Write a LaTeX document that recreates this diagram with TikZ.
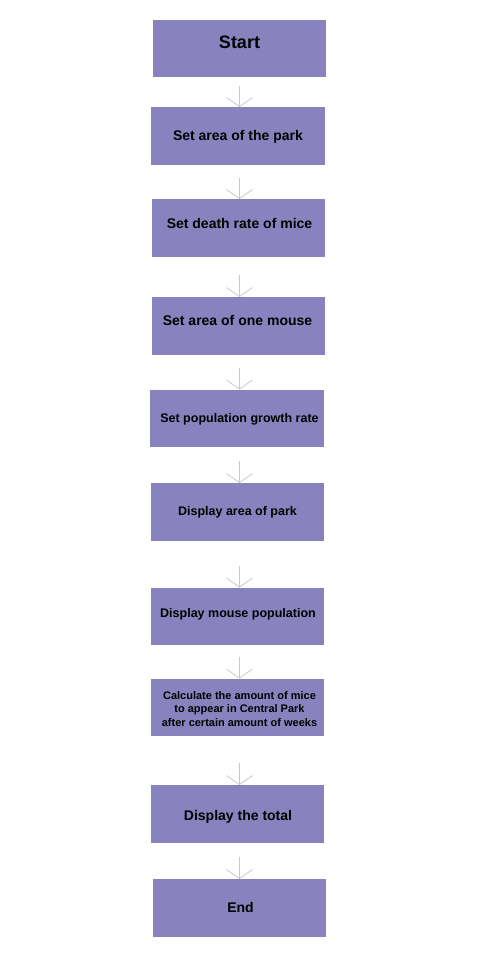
\documentclass[tikz,border=0pt]{standalone}
\usepackage{fontspec}
\setmainfont{Liberation Sans}
\usetikzlibrary{arrows.meta}
\definecolor{boxfill}{RGB}{136,131,190}
\definecolor{flowgray}{RGB}{200,200,200}
\begin{document}
\begin{tikzpicture}[x=1pt,y=1pt]
		\tikzstyle{every node}+=[inner sep=0pt]
		\tikzstyle{stepbox}=[fill=boxfill, minimum width=173.5pt, minimum height=57.5pt]
		\tikzstyle{flow}=[draw=flowgray, line width=0.8pt, -{Straight Barb[length=9pt,width=26pt]}]
		\useasboundingbox (0,0) rectangle (477,-960);
		\node [stepbox] (start) at (239.5,-48.5) {};
		\node [font=\bfseries\fontsize{18}{20}\selectfont] (start text) at ([yshift=6.5]start.center) {Start};
		\node [stepbox] (park) at (238,-136) {};
		\node [font=\bfseries\fontsize{14}{16}\selectfont] (park text) at ([yshift=-1]park.center) {Set area of the park};
		\node [stepbox] (death) at (238.5,-228) {};
		\node [font=\bfseries\fontsize{14}{16}\selectfont] (death text) at ([xshift=1,yshift=5]death.center) {Set death rate of mice};
		\node [stepbox] (mouse) at (238.5,-326) {};
		\node [font=\bfseries\fontsize{14}{16}\selectfont] (mouse text) at ([xshift=-1,yshift=6]mouse.center) {Set area of one mouse};
		\node [stepbox] (growth) at (237,-418.5) {};
		\node [font=\bfseries\fontsize{12.5}{14}\selectfont] (growth text) at ([xshift=2.5,yshift=-0.5]growth.center) {Set population growth rate};
		\node [stepbox] (show park) at (237.5,-512) {};
		\node [font=\bfseries\fontsize{12.5}{14}\selectfont] (show park text) at ([yshift=0]show park.center) {Display area of park};
		\node [stepbox] (show mice) at (237.5,-616.5) {};
		\node [font=\bfseries\fontsize{12.5}{14}\selectfont] (show mice text) at ([xshift=0.5,yshift=2.5]show mice.center) {Display mouse population};
		\node [stepbox] (calc) at (237.5,-707.5) {};
		\node [font=\bfseries\fontsize{11}{13.5}\selectfont, align=center] (calc text) at ([xshift=2,yshift=-1.5]calc.center) {Calculate the amount of mice\\to appear in Central Park\\after certain amount of weeks};
		\node [stepbox] (total) at (237.5,-814) {};
		\node [font=\bfseries\fontsize{14}{16}\selectfont] (total text) at ([xshift=0.5,yshift=-3]total.center) {Display the total};
		\node [stepbox] (end) at (239.5,-908) {};
		\node [font=\bfseries\fontsize{14}{16}\selectfont] (end text) at ([xshift=1,yshift=1]end.center) {End};
		\coordinate (a1) at (239.5,-86);
		\draw [flow] (a1) -- (a1 |- park.north);
		\coordinate (a2) at (239.5,-178);
		\draw [flow] (a2) -- (a2 |- death.north);
		\coordinate (a3) at (239.5,-275);
		\draw [flow] (a3) -- (a3 |- mouse.north);
		\coordinate (a4) at (239.5,-368);
		\draw [flow] (a4) -- (a4 |- growth.north);
		\coordinate (a5) at (239.5,-461);
		\draw [flow] (a5) -- (a5 |- show park.north);
		\coordinate (a6) at (239.5,-566);
		\draw [flow] (a6) -- (a6 |- show mice.north);
		\coordinate (a7) at (239.5,-657);
		\draw [flow] (a7) -- (a7 |- calc.north);
		\coordinate (a8) at (239.5,-763);
		\draw [flow] (a8) -- (a8 |- total.north);
		\coordinate (a9) at (239.5,-857);
		\draw [flow] (a9) -- (a9 |- end.north);
\end{tikzpicture}
\end{document}
